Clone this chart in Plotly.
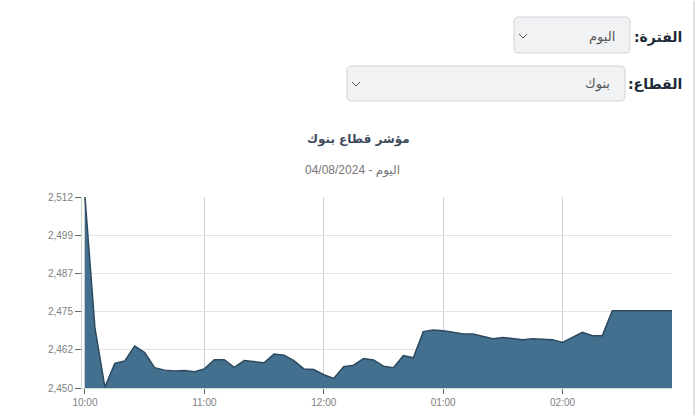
import plotly.graph_objects as go

# ---------------- data ----------------
times = ["10:00", "10:05", "10:10", "10:15", "10:20", "10:25", "10:30", "10:35", "10:40", "10:45",
         "10:50", "10:55", "11:00", "11:05", "11:10", "11:15", "11:20", "11:25", "11:30", "11:35",
         "11:40", "11:45", "11:50", "11:55", "12:00", "12:05", "12:10", "12:15", "12:20", "12:25",
         "12:30", "12:35", "12:40", "12:45", "12:50", "12:55", "13:00", "13:05", "13:10", "13:15",
         "13:20", "13:25", "13:30", "13:35", "13:40", "13:45", "13:50", "13:55", "14:00", "14:05",
         "14:10", "14:15", "14:20", "14:25", "14:30", "14:35", "14:40", "14:45", "14:50", "14:55"]
values = [2512.0, 2469.5, 2450.3, 2458.0, 2458.8, 2463.6, 2461.5, 2456.6, 2455.8, 2455.5,
          2455.7, 2455.3, 2456.2, 2459.2, 2459.2, 2456.7, 2458.9, 2458.6, 2458.2, 2461.0,
          2460.6, 2458.9, 2456.2, 2456.0, 2454.3, 2453.1, 2456.9, 2457.4, 2459.6, 2459.1,
          2457.1, 2456.6, 2460.5, 2459.8, 2468.3, 2468.8, 2468.6, 2468.1, 2467.5, 2467.5,
          2466.7, 2466.0, 2466.4, 2466.0, 2465.7, 2466.0, 2465.8, 2465.7, 2464.8, 2466.4,
          2468.1, 2467.0, 2467.0, 2475.1, 2475.1, 2475.1, 2475.1, 2475.1, 2475.1, 2475.1]
date = "2024-08-04"
y_tickvals = [2450, 2462.4, 2474.8, 2487.2, 2499.6, 2512]
y_ticktext = ["2,450", "2,462", "2,475", "2,487", "2,499", "2,512"]
x_tickvals = ["10:00", "11:00", "12:00", "13:00", "14:00"]
x_ticktext = ["10:00", "11:00", "12:00", "01:00", "02:00"]

title_text = "مؤشر قطاع بنوك"
subtitle_text = "04/08/2024 - اليوم"
period_label = "الفترة:\u200f"
period_value = "اليوم"
sector_label = "القطاع:\u200f"
sector_value = "بنوك"

# ---------------- layout geometry ----------------
W, H = 699, 416
L, R, T, B = 82, 27, 197, 28
PW, PH = W - L - R, H - T - B


def px(x):
    return (x - L) / PW


def py(y):
    return (H - B - y) / PH


xs = [f"{date} {t}" for t in times]

fig = go.Figure()
fig.add_trace(go.Scatter(
    x=xs, y=values, mode="lines", fill="tozeroy",
    line=dict(color="#2b4a60", width=1.5),
    fillcolor="#44708f", hoverinfo="skip", showlegend=False,
))

shapes = []


def rounded_box(x0, y0, x1, y1, r=5):
    rx, ry = r / PW, r / PH
    a0, a1 = px(x0), px(x1)
    b0, b1 = py(y0), py(y1)  # b0 top, b1 bottom
    path = (f"M {a0+rx},{b0} L {a1-rx},{b0} Q {a1},{b0} {a1},{b0-ry} "
            f"L {a1},{b1+ry} Q {a1},{b1} {a1-rx},{b1} L {a0+rx},{b1} "
            f"Q {a0},{b1} {a0},{b1+ry} L {a0},{b0-ry} Q {a0},{b0} {a0+rx},{b0} Z")
    shapes.append(dict(type="path", xref="paper", yref="paper", path=path,
                       fillcolor="#f1f2f4", line=dict(color="#cfd3d8", width=1), layer="above"))


def chevron(cx, cy):
    path = f"M {px(cx-4)},{py(cy-2)} L {px(cx)},{py(cy+2)} L {px(cx+4)},{py(cy-2)}"
    shapes.append(dict(type="path", xref="paper", yref="paper", path=path,
                       line=dict(color="#555", width=1), layer="above"))


rounded_box(514, 17, 630, 53)
chevron(523, 36)
rounded_box(347, 66, 625, 101)
chevron(356, 84)

# right container border
shapes.append(dict(type="line", xref="paper", yref="paper", x0=px(694), x1=px(694), y0=py(1), y1=py(415),
                   line=dict(color="#d6d6d6", width=1.5), layer="above"))

annotations = [
    dict(text=f"<b>{title_text}</b>", x=px(358), y=py(139), xref="paper", yref="paper",
         showarrow=False, xanchor="center", yanchor="middle",
         font=dict(family="DejaVu Sans", size=12, color="#3d4b5c")),
    dict(text=subtitle_text, x=px(352), y=py(170), xref="paper", yref="paper",
         showarrow=False, xanchor="center", yanchor="middle",
         font=dict(family="Liberation Sans, DejaVu Sans", size=12, color="#777")),
    dict(text=f"<b>{period_label}</b>", x=px(684), y=py(37), xref="paper", yref="paper",
         showarrow=False, xanchor="right", yanchor="middle",
         font=dict(family="DejaVu Sans", size=14, color="#1e2a38")),
    dict(text=period_value, x=px(617), y=py(37), xref="paper", yref="paper",
         showarrow=False, xanchor="right", yanchor="middle",
         font=dict(family="DejaVu Sans", size=13, color="#555")),
    dict(text=f"<b>{sector_label}</b>", x=px(684), y=py(84), xref="paper", yref="paper",
         showarrow=False, xanchor="right", yanchor="middle",
         font=dict(family="DejaVu Sans", size=14, color="#1e2a38")),
    dict(text=sector_value, x=px(612), y=py(84), xref="paper", yref="paper",
         showarrow=False, xanchor="right", yanchor="middle",
         font=dict(family="DejaVu Sans", size=13, color="#555")),
]

fig.update_layout(
    width=W, height=H, autosize=False,
    margin=dict(l=L, r=R, t=T, b=B, pad=0, autoexpand=False),
    paper_bgcolor="white", plot_bgcolor="white",
    shapes=shapes, annotations=annotations,
    showlegend=False,
    xaxis=dict(
        type="date", automargin=False,
        range=[f"{date} 09:58:30", f"{date} 14:55"],
        tickvals=[f"{date} {t}" for t in x_tickvals], ticktext=x_ticktext,
        showgrid=True, gridcolor="#cfcfcf", gridwidth=1,
        ticks="outside", ticklen=5, tickcolor="#666",
        showline=True, linecolor="#c8dcd2", linewidth=1,
        tickfont=dict(family="Liberation Sans, Arial", size=10, color="#808080"),
        zeroline=False, fixedrange=True,
    ),
    yaxis=dict(
        automargin=False,
        range=[2450, 2512],
        tickvals=y_tickvals, ticktext=y_ticktext,
        showgrid=True, gridcolor="#e2e2e2", gridwidth=1,
        ticks="outside", ticklen=6, tickcolor="#666",
        showline=True, linecolor="#c8dcd2", linewidth=1,
        tickfont=dict(family="Liberation Sans, Arial", size=10, color="#808080"),
        zeroline=False, fixedrange=True,
    ),
)

fig.write_html("out.html", config=dict(displayModeBar=False),
               post_script="document.body.style.margin='0';document.body.style.overflow='hidden';")
